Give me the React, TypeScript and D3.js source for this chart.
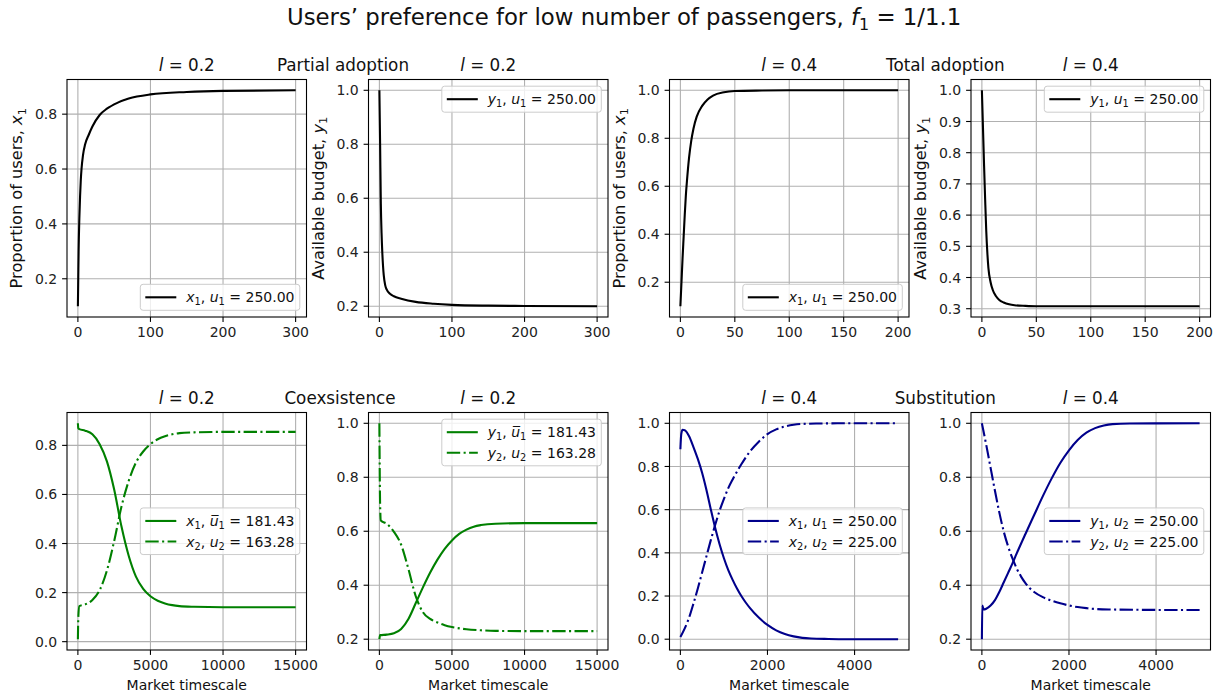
import React from 'react';
import * as d3 from 'd3';

// ---------- data: partial adoption, l = 0.2 ----------
const tPartialX = [0, 0.5, 1, 2, 3, 4, 5, 7, 10, 15, 20, 30, 40, 55, 70, 100, 150, 200, 300];
const partialX1 = [0.1, 0.2, 0.3, 0.42, 0.5, 0.56, 0.6, 0.65, 0.69, 0.725, 0.755, 0.797, 0.82, 0.842, 0.857, 0.872, 0.881, 0.885, 0.887];
const tPartialY = [0, 1, 2, 3, 4, 5, 6, 8, 10, 15, 20, 30, 50, 75, 100, 150, 200, 300];
const partialY1 = [1.0, 0.8, 0.58, 0.47, 0.4, 0.35, 0.315, 0.278, 0.262, 0.245, 0.237, 0.228, 0.216, 0.209, 0.205, 0.202, 0.201, 0.2];

// ---------- data: total adoption, l = 0.4 ----------
const tTotalX = [0, 1, 2, 3, 4, 5, 6, 8, 10, 12, 15, 20, 25, 30, 40, 50, 75, 100, 200];
const totalX1 = [0.1, 0.2, 0.3, 0.39, 0.48, 0.56, 0.62, 0.72, 0.79, 0.84, 0.89, 0.935, 0.962, 0.978, 0.992, 0.997, 0.999, 1.0, 1.0];
const tTotalY = [0, 1, 2, 3, 4, 5, 6, 8, 10, 13, 16, 20, 25, 30, 40, 50, 200];
const totalY1 = [1.0, 0.88, 0.76, 0.65, 0.55, 0.48, 0.43, 0.385, 0.36, 0.34, 0.328, 0.32, 0.314, 0.311, 0.309, 0.308, 0.308];

// ---------- data: coexistence, l = 0.2 ----------
const tCoexX = [0, 30, 100, 500, 1000, 1500, 2000, 2500, 3000, 3500, 4000, 4500, 5000, 5500, 6000, 6500, 7000, 8000, 10000, 15000];
const coexX1 = [0.89, 0.87, 0.866, 0.86, 0.845, 0.805, 0.735, 0.62, 0.47, 0.35, 0.265, 0.215, 0.185, 0.167, 0.156, 0.149, 0.145, 0.142, 0.14, 0.14];
const coexX2 = [0.01, 0.1, 0.145, 0.152, 0.17, 0.21, 0.29, 0.41, 0.55, 0.655, 0.73, 0.775, 0.805, 0.825, 0.837, 0.845, 0.85, 0.853, 0.855, 0.855];
const tCoexY1 = [0, 50, 500, 1000, 1500, 2000, 2500, 3000, 3500, 4000, 4500, 5000, 5500, 6000, 6500, 7000, 8000, 10000, 15000];
const coexY1 = [0.2, 0.215, 0.217, 0.222, 0.238, 0.275, 0.333, 0.392, 0.447, 0.495, 0.535, 0.566, 0.59, 0.606, 0.617, 0.623, 0.628, 0.63, 0.63];
const tCoexY2 = [0, 20, 50, 100, 500, 1000, 1500, 2000, 2500, 3000, 3500, 4000, 4500, 5000, 6000, 7000, 8000, 10000, 15000];
const coexY2 = [1.0, 0.85, 0.7, 0.64, 0.628, 0.598, 0.55, 0.46, 0.36, 0.3, 0.275, 0.262, 0.252, 0.245, 0.237, 0.233, 0.231, 0.23, 0.23];

// ---------- data: substitution, l = 0.4 ----------
const tSubX1 = [0, 20, 50, 100, 200, 300, 400, 500, 600, 700, 800, 900, 1000, 1100, 1200, 1300, 1400, 1500, 1600, 1800, 2000, 2200, 2400, 2600, 2800, 3000, 3400, 3800, 5000];
const subX1 = [0.88, 0.95, 0.97, 0.968, 0.94, 0.89, 0.835, 0.77, 0.69, 0.6, 0.515, 0.44, 0.375, 0.32, 0.275, 0.235, 0.2, 0.17, 0.144, 0.1, 0.066, 0.041, 0.024, 0.013, 0.006, 0.003, 0.001, 0, 0];
const tSubX2 = [0, 100, 200, 300, 400, 500, 600, 700, 800, 900, 1000, 1100, 1200, 1400, 1600, 1800, 2000, 2200, 2400, 2600, 2800, 3200, 3600, 5000];
const subX2 = [0.01, 0.05, 0.1, 0.165, 0.235, 0.31, 0.385, 0.46, 0.53, 0.595, 0.65, 0.7, 0.74, 0.81, 0.87, 0.915, 0.95, 0.972, 0.985, 0.993, 0.997, 0.999, 1.0, 1.0];
const tSubY1 = [0, 10, 40, 100, 200, 300, 400, 500, 600, 700, 800, 1000, 1200, 1400, 1600, 1800, 2000, 2200, 2400, 2600, 2800, 3000, 3400, 5000];
const subY1 = [0.2, 0.325, 0.31, 0.313, 0.325, 0.345, 0.375, 0.41, 0.445, 0.48, 0.518, 0.59, 0.66, 0.73, 0.795, 0.853, 0.9, 0.938, 0.965, 0.982, 0.992, 0.997, 0.999, 1.0];
const tSubY2 = [0, 100, 200, 300, 400, 500, 600, 700, 800, 900, 1000, 1100, 1200, 1400, 1600, 1800, 2000, 2200, 2400, 2600, 3000, 3500, 5000];
const subY2 = [1.0, 0.92, 0.835, 0.75, 0.67, 0.6, 0.545, 0.5, 0.462, 0.432, 0.408, 0.389, 0.375, 0.356, 0.343, 0.333, 0.325, 0.319, 0.315, 0.312, 0.31, 0.309, 0.308];

// ---------- tick values ----------
const xTicks300 = [0, 100, 200, 300];
const xTicks200 = [0, 50, 100, 150, 200];
const xTicks15000 = [0, 5000, 10000, 15000];
const xTicks5000 = [0, 2000, 4000];
const yTicks02to08 = [0.2, 0.4, 0.6, 0.8];
const yTicks02to10 = [0.2, 0.4, 0.6, 0.8, 1.0];
const yTicks03to10 = [0.3, 0.4, 0.5, 0.6, 0.7, 0.8, 0.9, 1.0];
const yTicks00to08 = [0.0, 0.2, 0.4, 0.6, 0.8];
const yTicks00to10 = [0.0, 0.2, 0.4, 0.6, 0.8, 1.0];

// ---------- styling / layout ----------
const W = 1215;
const H = 698;
const FONT = "'DejaVu Sans', sans-serif";
const TICK_FS = 14;
const YLABEL_FS = 16.2;
const TITLE_FS = 16.8;
const SUP_FS = 22.8;
const LW = 2.1;
const DASHDOT = '13.4,3.4,2.1,3.4';
const GREEN = '#008000';
const NAVY = '#00008b';
const colLeft = [67, 368.5, 669.5, 971];
const rowTop = [79.5, 412.5];
const AX_W = 239.5;
const AX_H = 237.5;
const TICK_LEN = 4.9;
const LEG_W = 159.5;

type Seg = { t: string; it?: boolean; sub?: boolean; bar?: boolean };

function Rich({ segs, fs }: { segs: Seg[]; fs: number }) {
  let shifted = false;
  return (
    <>
      {segs.map((s, i) => {
        let dy: number | undefined;
        if (s.sub && !shifted) {
          dy = 0.22 * fs;
          shifted = true;
        } else if (!s.sub && shifted) {
          dy = -0.22 * fs;
          shifted = false;
        }
        return (
          <tspan
            key={i}
            dy={dy}
            fontStyle={s.it ? 'italic' : undefined}
            fontSize={s.sub ? fs * 0.7 : undefined}
          >
            {s.bar ? s.t + '\u0305' : s.t}
          </tspan>
        );
      })}
    </>
  );
}

const lTitle = (v: string): Seg[] => [{ t: 'l', it: true }, { t: ' = ' + v }];
const sym = (v: string, i: string): Seg[] => [{ t: v, it: true }, { t: i, sub: true }];
const legLabel = (v: string, i: string, ui: string, val: string, bar = false): Seg[] => [
  { t: v, it: true },
  { t: i, sub: true },
  { t: ', ' },
  { t: 'u', it: true, bar },
  { t: ui, sub: true },
  { t: ' = ' + val },
];

type Series = { t: number[]; v: number[]; color: string; dashed: boolean; label: Seg[] };
type Panel = {
  col: number;
  row: number;
  title: Seg[];
  ylabel?: Seg[];
  xlabel?: string;
  xticks: number[];
  yticks: number[];
  series: Series[];
  legendLoc: 'lower right' | 'upper right' | 'center right';
};

const panels: Panel[] = [
  {
    col: 0, row: 0, title: lTitle('0.2'),
    ylabel: [{ t: 'Proportion of users, ' }, ...sym('x', '1')],
    xticks: xTicks300, yticks: yTicks02to08, legendLoc: 'lower right',
    series: [{ t: tPartialX, v: partialX1, color: 'black', dashed: false, label: legLabel('x', '1', '1', '250.00') }],
  },
  {
    col: 1, row: 0, title: lTitle('0.2'),
    ylabel: [{ t: 'Available budget, ' }, ...sym('y', '1')],
    xticks: xTicks300, yticks: yTicks02to10, legendLoc: 'upper right',
    series: [{ t: tPartialY, v: partialY1, color: 'black', dashed: false, label: legLabel('y', '1', '1', '250.00') }],
  },
  {
    col: 2, row: 0, title: lTitle('0.4'),
    ylabel: [{ t: 'Proportion of users, ' }, ...sym('x', '1')],
    xticks: xTicks200, yticks: yTicks02to10, legendLoc: 'lower right',
    series: [{ t: tTotalX, v: totalX1, color: 'black', dashed: false, label: legLabel('x', '1', '1', '250.00') }],
  },
  {
    col: 3, row: 0, title: lTitle('0.4'),
    ylabel: [{ t: 'Available budget, ' }, ...sym('y', '1')],
    xticks: xTicks200, yticks: yTicks03to10, legendLoc: 'upper right',
    series: [{ t: tTotalY, v: totalY1, color: 'black', dashed: false, label: legLabel('y', '1', '1', '250.00') }],
  },
  {
    col: 0, row: 1, title: lTitle('0.2'), xlabel: 'Market timescale',
    xticks: xTicks15000, yticks: yTicks00to08, legendLoc: 'center right',
    series: [
      { t: tCoexX, v: coexX1, color: GREEN, dashed: false, label: legLabel('x', '1', '1', '181.43', true) },
      { t: tCoexX, v: coexX2, color: GREEN, dashed: true, label: legLabel('x', '2', '2', '163.28') },
    ],
  },
  {
    col: 1, row: 1, title: lTitle('0.2'), xlabel: 'Market timescale',
    xticks: xTicks15000, yticks: yTicks02to10, legendLoc: 'upper right',
    series: [
      { t: tCoexY1, v: coexY1, color: GREEN, dashed: false, label: legLabel('y', '1', '1', '181.43', true) },
      { t: tCoexY2, v: coexY2, color: GREEN, dashed: true, label: legLabel('y', '2', '2', '163.28') },
    ],
  },
  {
    col: 2, row: 1, title: lTitle('0.4'), xlabel: 'Market timescale',
    xticks: xTicks5000, yticks: yTicks00to10, legendLoc: 'center right',
    series: [
      { t: tSubX1, v: subX1, color: NAVY, dashed: false, label: legLabel('x', '1', '1', '250.00') },
      { t: tSubX2, v: subX2, color: NAVY, dashed: true, label: legLabel('x', '2', '2', '225.00') },
    ],
  },
  {
    col: 3, row: 1, title: lTitle('0.4'), xlabel: 'Market timescale',
    xticks: xTicks5000, yticks: yTicks02to10, legendLoc: 'center right',
    series: [
      { t: tSubY1, v: subY1, color: NAVY, dashed: false, label: legLabel('y', '1', '2', '250.00') },
      { t: tSubY2, v: subY2, color: NAVY, dashed: true, label: legLabel('y', '2', '2', '225.00') },
    ],
  },
];

const sectionTitles = [
  { text: 'Partial adoption', x: 343, row: 0 },
  { text: 'Total adoption', x: 945.3, row: 0 },
  { text: 'Coexsistence', x: 340, row: 1 },
  { text: 'Substitution', x: 945.3, row: 1 },
];

function padded(ext: [number, number]): [number, number] {
  const r = ext[1] - ext[0];
  return [ext[0] - 0.05 * r, ext[1] + 0.05 * r];
}

function PanelView({ p }: { p: Panel }) {
  const left = colLeft[p.col];
  const top = rowTop[p.row];
  const right = left + AX_W;
  const bottom = top + AX_H;
  const allT = p.series.flatMap((s) => s.t);
  const allV = p.series.flatMap((s) => s.v);
  const x = d3.scaleLinear().domain(padded(d3.extent(allT) as [number, number])).range([left, right]);
  const y = d3.scaleLinear().domain(padded(d3.extent(allV) as [number, number])).range([bottom, top]);

  const rows = p.series.length;
  const legH = 12 + 14 * rows + 6.6 * (rows - 1);
  const legX = right - 6.7 - LEG_W;
  let legY: number;
  if (p.legendLoc === 'lower right') legY = bottom - 6.7 - legH;
  else if (p.legendLoc === 'upper right') legY = top + 6.7;
  else legY = (top + bottom) / 2 - legH / 2;

  return (
    <g>
      {/* grid */}
      {p.xticks.map((t) => (
        <line key={'gx' + t} x1={x(t)} x2={x(t)} y1={top} y2={bottom} stroke="#b0b0b0" strokeWidth={1.1} />
      ))}
      {p.yticks.map((t) => (
        <line key={'gy' + t} x1={left} x2={right} y1={y(t)} y2={y(t)} stroke="#b0b0b0" strokeWidth={1.1} />
      ))}
      {/* curves */}
      {p.series.map((s, i) => {
        const pts = s.t.map((t, k) => [t, s.v[k]] as [number, number]);
        const path = d3
          .line<[number, number]>()
          .x((d) => x(d[0]))
          .y((d) => y(d[1]))
          .curve(d3.curveMonotoneX)(pts);
        return (
          <path
            key={'s' + i}
            d={path || ''}
            fill="none"
            stroke={s.color}
            strokeWidth={LW}
            strokeDasharray={s.dashed ? DASHDOT : undefined}
            strokeLinejoin="round"
          />
        );
      })}
      {/* frame */}
      <rect x={left} y={top} width={AX_W} height={AX_H} fill="none" stroke="black" strokeWidth={1.1} />
      {/* x ticks */}
      {p.xticks.map((t) => (
        <g key={'xt' + t}>
          <line x1={x(t)} x2={x(t)} y1={bottom} y2={bottom + TICK_LEN} stroke="black" strokeWidth={1.1} />
          <text x={x(t)} y={bottom + TICK_LEN + 4.9} dy="0.76em" textAnchor="middle" fontSize={TICK_FS} fontFamily={FONT} fill="#222">
            {String(t)}
          </text>
        </g>
      ))}
      {/* y ticks */}
      {p.yticks.map((t) => (
        <g key={'yt' + t}>
          <line x1={left - TICK_LEN} x2={left} y1={y(t)} y2={y(t)} stroke="black" strokeWidth={1.1} />
          <text x={left - TICK_LEN - 4.9} y={y(t)} dy="0.36em" textAnchor="end" fontSize={TICK_FS} fontFamily={FONT} fill="#222">
            {t.toFixed(1)}
          </text>
        </g>
      ))}
      {/* title */}
      <text x={(left + right) / 2} y={top - 9} textAnchor="middle" fontSize={TITLE_FS} fontFamily={FONT} fill="#111">
        <Rich segs={p.title} fs={TITLE_FS} />
      </text>
      {p.ylabel && (
        <text
          transform={`translate(${left - 45},${(top + bottom) / 2}) rotate(-90)`}
          textAnchor="middle"
          fontSize={YLABEL_FS}
          fontFamily={FONT}
          fill="#111"
        >
          <Rich segs={p.ylabel} fs={YLABEL_FS} />
        </text>
      )}
      {p.xlabel && (
        <text x={(left + right) / 2} y={bottom + 40} textAnchor="middle" fontSize={TICK_FS} fontFamily={FONT} fill="#111">
          {p.xlabel}
        </text>
      )}
      {/* legend */}
      <g>
        <rect x={legX} y={legY} width={LEG_W} height={legH} rx={2.8} fill="white" fillOpacity={0.8} stroke="#cccccc" strokeWidth={1} />
        {p.series.map((s, i) => {
          const cy = legY + 13 + i * 20.6;
          return (
            <g key={'lg' + i}>
              <line
                x1={legX + 5}
                x2={legX + 36}
                y1={cy}
                y2={cy}
                stroke={s.color}
                strokeWidth={LW}
                strokeDasharray={s.dashed ? DASHDOT : undefined}
              />
              <text x={legX + 46} y={cy} dy="0.36em" fontSize={TICK_FS} fontFamily={FONT} fill="#111">
                <Rich segs={s.label} fs={TICK_FS} />
              </text>
            </g>
          );
        })}
      </g>
    </g>
  );
}

export default function App() {
  const supSegs: Seg[] = [
    { t: 'Users\u2019 preference for low number of passengers, ' },
    { t: 'f', it: true },
    { t: '1', sub: true },
    { t: ' = 1/1.1' },
  ];
  return (
    <svg width={W} height={H} style={{ display: 'block', position: 'absolute', left: 0, top: 0 }}>
      <rect width={W} height={H} fill="white" />
      <text x={287} y={25} fontSize={SUP_FS} fontFamily={FONT} fill="#111">
        <Rich segs={supSegs} fs={SUP_FS} />
      </text>
      {sectionTitles.map((s) => (
        <text key={s.text} x={s.x} y={rowTop[s.row] - 9} textAnchor="middle" fontSize={TITLE_FS} fontFamily={FONT} fill="#111">
          {s.text}
        </text>
      ))}
      {panels.map((p, i) => (
        <PanelView key={i} p={p} />
      ))}
    </svg>
  );
}
